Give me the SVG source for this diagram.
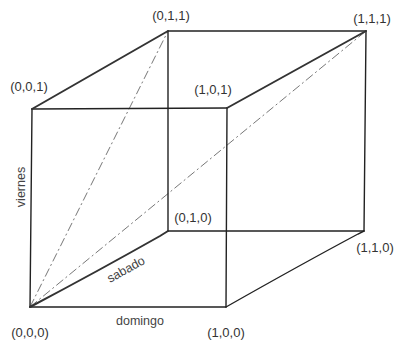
<svg xmlns="http://www.w3.org/2000/svg" width="394" height="344" viewBox="0 0 394 344">
<style>
.e{stroke:#222;stroke-width:1.4;fill:none;stroke-linecap:round}
.t{stroke:#333;stroke-width:2;fill:none;stroke-linecap:round}
.d{stroke:#777;stroke-width:1;fill:none;stroke-dasharray:9 3 2 3}
.l{font-family:"Liberation Sans",Arial,sans-serif;font-size:13px;fill:#333;text-anchor:middle}
.a{font-family:"Liberation Sans",Arial,sans-serif;font-size:12.5px;fill:#444;text-anchor:middle}
</style>
<rect width="394" height="344" fill="#fff"/>
<g id="connectors">
<line class="d" x1="30" y1="307" x2="168" y2="31"/>
<line class="d" x1="30" y1="307" x2="366" y2="31"/>
<line class="e" x1="32" y1="109" x2="227" y2="108"/>
<line class="e" x1="227" y1="108" x2="226" y2="307"/>
<line class="e" x1="226" y1="307" x2="30" y2="307"/>
<line class="e" x1="30" y1="307" x2="32" y2="109"/>
<line class="e" x1="168" y1="31" x2="366" y2="31"/>
<line class="e" x1="366" y1="31" x2="364" y2="231"/>
<line class="e" x1="364" y1="231" x2="168" y2="231"/>
<line class="e" x1="168" y1="231" x2="168" y2="31"/>
<line class="t" x1="32" y1="109" x2="168" y2="31"/>
<line class="t" x1="227" y1="108" x2="366" y2="31"/>
<path class="t" d="M30 307 Q100 270 160 236 L168 231"/>
<path class="e" d="M226 307 Q300 265 358 234 L364 231"/>
</g>
<g id="n000"><text class="l" x="30" y="337">(0,0,0)</text></g>
<g id="n001"><text class="l" x="29" y="91">(0,0,1)</text></g>
<g id="n011"><text class="l" x="171" y="20">(0,1,1)</text></g>
<g id="n111"><text class="l" x="372" y="23">(1,1,1)</text></g>
<g id="n101"><text class="l" x="213" y="94">(1,0,1)</text></g>
<g id="n010"><text class="l" x="193" y="222">(0,1,0)</text></g>
<g id="n110"><text class="l" x="375" y="252">(1,1,0)</text></g>
<g id="n100"><text class="l" x="226" y="337">(1,0,0)</text></g>
<g id="axes">
<text class="a" x="140" y="325">domingo</text>
<text class="a" transform="translate(25 187) rotate(-90)">viernes</text>
<text class="a" transform="translate(128 273) rotate(-29)">sabado</text>
</g>
</svg>
